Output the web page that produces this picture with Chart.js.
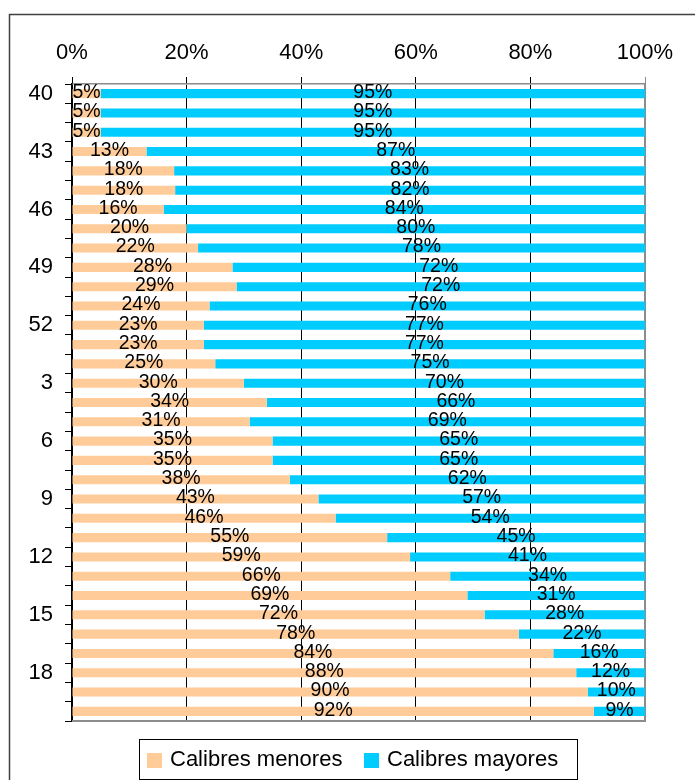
<!DOCTYPE html>
<html>
<head>
<meta charset="utf-8">
<script src="https://cdn.jsdelivr.net/npm/chart.js@4/dist/chart.umd.min.js"></script>
<style>
  html, body { margin: 0; padding: 0; background: #fff; }
  canvas { display: block; }
</style>
</head>
<body>
<canvas id="chart" width="695" height="780"></canvas>
<script>
// Weeks (40..52, then 1..20)
const weeks = ['40', '41', '42', '43', '44', '45', '46', '47', '48', '49', '50', '51', '52',
    '1', '2', '3', '4', '5', '6', '7', '8', '9', '10', '11', '12', '13', '14', '15', '16', '17', '18', '19', '20'];

// Percent labels
const menores = [5, 5, 5, 13, 18, 18, 16, 20, 22, 28, 29, 24, 23, 23, 25, 30, 34, 31, 35, 35, 38, 43, 46, 55, 59, 66, 69, 72, 78, 84, 88, 90, 92];
const mayores = [95, 95, 95, 87, 83, 82, 84, 80, 78, 72, 72, 76, 77, 77, 75, 70, 66, 69, 65, 65, 62, 57, 54, 45, 41, 34, 31, 28, 22, 16, 12, 10, 9];

const seriesNames = ['Calibres menores', 'Calibres mayores'];
const xTicks = [0, 20, 40, 60, 80, 100];

const colMenores = '#FFCC99';
const colMayores = '#00CCFF';
const font = 'Liberation Sans, Arial, sans-serif';

// 100% stacked: share of each row
const share = (a, b) => a.map((v, i) => v / (a[i] + b[i]) * 100);

// white page, outer frame, plot frame
const framePlugin = {
    id: 'frame',
    beforeDraw(chart) {
        const ctx = chart.ctx;
        ctx.save();
        ctx.fillStyle = '#fff';
        ctx.fillRect(0, 0, chart.width, chart.height);
        ctx.strokeStyle = '#404040';
        ctx.lineWidth = 1.5;
        ctx.beginPath();
        ctx.moveTo(9.5, chart.height);
        ctx.lineTo(9.5, 14.5);
        ctx.lineTo(chart.width, 14.5);
        ctx.stroke();
        ctx.restore();
    },
    beforeDatasetsDraw(chart) {
        const { ctx, chartArea: a } = chart;
        ctx.save();
        ctx.strokeStyle = '#8c8c8c';
        ctx.lineWidth = 2;
        ctx.beginPath();
        ctx.moveTo(a.left, a.bottom);
        ctx.lineTo(a.right, a.bottom);
        ctx.lineTo(a.right, a.top);
        ctx.stroke();
        ctx.restore();
    }
};

// percent labels centred on each segment
const labelPlugin = {
    id: 'segLabels',
    afterDatasetsDraw(chart) {
        const ctx = chart.ctx;
        const raw = [menores, mayores];
        ctx.save();
        ctx.font = '19.5px ' + font;
        ctx.fillStyle = '#000';
        ctx.textAlign = 'center';
        ctx.textBaseline = 'middle';
        chart.data.datasets.forEach((ds, d) => {
            chart.getDatasetMeta(d).data.forEach((bar, i) => {
                const p = bar.getProps(['x', 'y', 'base'], true);
                ctx.fillText(raw[d][i] + '%', (p.x + p.base) / 2, p.y - 1);
            });
        });
        ctx.restore();
    }
};

// boxed legend at the bottom
const legendPlugin = {
    id: 'boxLegend',
    afterDraw(chart) {
        const ctx = chart.ctx;
        const boxX = [147, 364];
        ctx.save();
        ctx.strokeStyle = '#000';
        ctx.lineWidth = 1;
        ctx.strokeRect(139.5, 739.5, 438, 40);
        ctx.font = '22px ' + font;
        ctx.textBaseline = 'middle';
        chart.data.datasets.forEach((ds, d) => {
            ctx.fillStyle = ds.backgroundColor;
            ctx.fillRect(boxX[d], 753, 15, 15);
            ctx.fillStyle = '#000';
            ctx.fillText(ds.label, boxX[d] + 23, 760);
        });
        ctx.restore();
    }
};

new Chart(document.getElementById('chart').getContext('2d'), {
    type: 'bar',
    data: {
        labels: weeks,
        datasets: [{
            label: seriesNames[0],
            data: share(menores, mayores),
            backgroundColor: colMenores,
            barPercentage: 0.47,
            categoryPercentage: 1
        }, {
            label: seriesNames[1],
            data: share(mayores, menores),
            backgroundColor: colMayores,
            barPercentage: 0.47,
            categoryPercentage: 1
        }]
    },
    options: {
        indexAxis: 'y',
        responsive: false,
        animation: false,
        layout: { padding: { left: 0, top: 0, right: 50, bottom: 59 } },
        plugins: {
            legend: { display: false },
            tooltip: { enabled: false }
        },
        scales: {
            x: {
                position: 'top',
                stacked: true,
                min: 0,
                max: 100,
                afterFit: (s) => { s.height = 84; },
                afterBuildTicks: (s) => { s.ticks = xTicks.map(v => ({ value: v })); },
                ticks: {
                    callback: (v) => v + '%',
                    color: '#000',
                    font: { family: font, size: 22 },
                    padding: 11,
                    maxRotation: 0
                },
                grid: {
                    color: (c) => c.tick && c.tick.value === 100 ? '#8c8c8c' : '#000',
                    tickLength: 7,
                    drawOnChartArea: true
                },
                border: { display: true, color: '#8c8c8c', width: 1.5 }
            },
            y: {
                stacked: true,
                afterFit: (s) => { s.width = 72; },
                ticks: {
                    autoSkip: false,
                    callback: (v, i) => i % 3 === 0 ? weeks[i] : '',
                    color: '#000',
                    font: { family: font, size: 22 },
                    padding: 12
                },
                grid: {
                    offset: true,
                    drawOnChartArea: false,
                    tickLength: 7,
                    color: '#000'
                },
                border: { display: true, color: '#000', width: 1.5 }
            }
        }
    },
    plugins: [framePlugin, labelPlugin, legendPlugin]
});
</script>
</body>
</html>
